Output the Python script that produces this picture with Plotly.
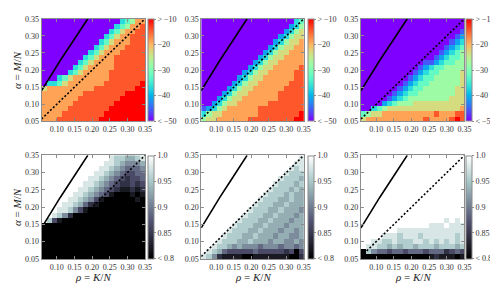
import math
import plotly.graph_objects as go

# ---------------- data ----------------
rho = [0.0643, 0.0790, 0.0936, 0.1083, 0.1229, 0.1376, 0.1522, 0.1669, 0.1815, 0.1962,
       0.2108, 0.2255, 0.2401, 0.2548, 0.2694, 0.2841, 0.2987, 0.3134, 0.3280, 0.3427]
alpha = [0.0575, 0.0725, 0.0875, 0.1025, 0.1175, 0.1325, 0.1475, 0.1625, 0.1775, 0.1925,
         0.2075, 0.2225, 0.2375, 0.2525, 0.2675, 0.2825, 0.2975, 0.3125, 0.3275, 0.3425]

# each row: 20 levels 0..9 (0 = colour-bar minimum, 9 = maximum); rows listed top (alpha=0.3425) to bottom
nmse_a = [
    "00000000000000034577",
    "00000000000000345778",
    "00000000000003467788",
    "00000000000034677888",
    "00000000000346777888",
    "00000000003467778888",
    "00000000034677788888",
    "00000000346777888888",
    "00000003467777888888",
    "00000034677777888888",
    "00000346777778888888",
    "00034677777778888888",
    "03346777777788888889",
    "67777777778888888899",
    "77777777888888889999",
    "77777778888888899999",
    "77777788888888999999",
    "77777888888889999999",
    "77778888888899999999",
    "77788888888999999999",
]
nmse_b = [
    "00000000000000000034",
    "00000000000000000235",
    "00000000000000002356",
    "00000000000000023566",
    "00000000000000235667",
    "00000000000002356677",
    "00000000000023566777",
    "00000000000235667777",
    "00000000002356677777",
    "00000000023566777778",
    "00000000235667777788",
    "00000002356677777788",
    "00000023566777777888",
    "00000235667777778888",
    "00002356677777788888",
    "00023566777777788888",
    "00235667777778888888",
    "12356777777888888888",
    "35667777777888888889",
    "56677777788888888899",
]
nmse_c = [
    "00000000000000000000",
    "00000000000000000000",
    "00000000000000000001",
    "00000000000000000012",
    "00000000000000000123",
    "00000000000000001234",
    "00000000000000012345",
    "00000000000000123445",
    "00000000000011234455",
    "00000000000123445555",
    "00000000001234455556",
    "00000000012344555556",
    "00000000123445555556",
    "00000001234455555566",
    "00000012344555555566",
    "00000123455555555666",
    "00002345556666666666",
    "00345666666666666667",
    "45667777777777877788",
    "67777777777787777898",
]
rate_a = [
    "99999999999998776678",
    "99999999999988765556",
    "99999999999887654445",
    "99999999998876543344",
    "99999999988765432334",
    "99999999887654322323",
    "99999998876543211212",
    "99999988765431000101",
    "99999887653100000010",
    "99998876421000000000",
    "99988753100000000000",
    "99875200000000000000",
    "97310000000000000000",
    "00000000000000000000",
    "00000000000000000000",
    "00000000000000000000",
    "00000000000000000000",
    "00000000000000000000",
    "00000000000000000000",
    "00000000000000000000",
]
rate_b = [
    "99999999999999999998",
    "99999999999999999988",
    "99999999999999999878",
    "99999999999999998777",
    "99999999999999987776",
    "99999999999999877767",
    "99999999999998777676",
    "99999999999987776766",
    "99999999999877766766",
    "99999999998777667666",
    "99999999987776676665",
    "99999999877766766656",
    "99999998777667666566",
    "99999987776676665666",
    "99999877766766656656",
    "99998777667666566556",
    "99987776676665665565",
    "99877656555455545545",
    "98764333334333332303",
    "87521111001111111002",
]
rate_c = [
    "99999999999999999999",
    "99999999999999999999",
    "99999999999999999999",
    "99999999999999999999",
    "99999999999999999999",
    "99999999999999999999",
    "99999999999999999999",
    "99999999999999999999",
    "99999999999999999999",
    "99999999999999999999",
    "99999999999999999999",
    "99999999999999999999",
    "99999999999999998989",
    "99999999999998889888",
    "99999998888888888888",
    "99998887888788888878",
    "99887787778878787878",
    "98877676776777677767",
    "07544344344434442343",
    "00000000000001211101",
]

curve_rho = [0.057, 0.080, 0.110, 0.140, 0.165, 0.188]
curve_alpha = [0.140, 0.180, 0.228, 0.275, 0.313, 0.350]
diag_rho = [0.057, 0.350]
diag_alpha = [0.057, 0.350]

top_ticks = [-10, -20, -30, -40, -50]
top_ticktext = ["> \u221210", "\u221220", "\u221230", "\u221240", "< \u221250"]
bot_ticks = [1.0, 0.95, 0.9, 0.85, 0.8]
bot_ticktext = ["1.0", "0.95", "0.9", "0.85", "< 0.8"]
x_ticks = [0.10, 0.15, 0.20, 0.25, 0.30, 0.35]
y_ticks = [0.05, 0.10, 0.15, 0.20, 0.25, 0.30, 0.35]

# ---------------- styling ----------------
FONT = "Liberation Serif"
W, H = 498, 284


def decode(rows, vmin, vmax):
    return [[vmin + int(ch) * (vmax - vmin) / 9.0 for ch in row] for row in reversed(rows)]


def rainbow_scale(n=21):
    out = []
    for i in range(n):
        t = i / (n - 1)
        r = min(1.0, abs(2 * t - 0.5))
        g = math.sin(math.pi * t)
        b = math.cos(math.pi * t / 2)
        out.append([t, "rgb(%d,%d,%d)" % (round(r * 255), round(max(g, 0) * 255), round(max(b, 0) * 255))])
    return out


bone = [[0.0, "rgb(0,0,0)"], [0.365079, "rgb(81,81,113)"],
        [0.746032, "rgb(166,198,198)"], [1.0, "rgb(255,255,255)"]]

col_x = [(34, 139), (196, 300), (358, 463)]
row_y = [(7, 113), (148, 255)]
cb_x = [142, 304, 465]

panels = [
    (nmse_a, 0, 0), (nmse_b, 0, 1), (nmse_c, 0, 2),
    (rate_a, 1, 0), (rate_b, 1, 1), (rate_c, 1, 2),
]

fig = go.Figure()
layout = {}
gray = "#8c8c8c"
for k, (rows, ri, ci) in enumerate(panels, start=1):
    top = ri == 0
    vmin, vmax = (-50, -10) if top else (0.8, 1.0)
    y0, y1 = row_y[ri]
    x0, x1 = col_x[ci]
    xa = "x" if k == 1 else "x%d" % k
    ya = "y" if k == 1 else "y%d" % k
    fig.add_trace(go.Heatmap(
        x=rho, y=alpha, z=decode(rows, vmin, vmax), zmin=vmin, zmax=vmax,
        colorscale=rainbow_scale() if top else bone,
        xaxis=xa, yaxis=ya,
        colorbar=dict(
            x=cb_x[ci] / W, xanchor="left", xpad=0, ypad=0,
            y=1 - (y0 + y1) / 2 / H, yanchor="middle",
            len=(y1 - y0 - 1) / H, lenmode="fraction",
            thickness=6, thicknessmode="pixels",
            outlinewidth=1, outlinecolor=gray,
            tickvals=top_ticks if top else bot_ticks,
            ticktext=top_ticktext if top else bot_ticktext,
            tickfont=dict(family=FONT, size=8, color="#333"),
            ticks="outside", ticklen=2, tickcolor=gray,
        ),
    ))
    fig.add_trace(go.Scatter(x=curve_rho, y=curve_alpha, mode="lines",
                             line=dict(color="black", width=1.6),
                             xaxis=xa, yaxis=ya, showlegend=False, hoverinfo="skip"))
    fig.add_trace(go.Scatter(x=diag_rho, y=diag_alpha, mode="lines",
                             line=dict(color="black", width=1.6, dash="2px,2px"),
                             xaxis=xa, yaxis=ya, showlegend=False, hoverinfo="skip"))
    axcommon = dict(showline=True, linecolor=gray, linewidth=1, mirror="ticks",
                    ticks="inside", ticklen=3, tickcolor=gray, showgrid=False,
                    zeroline=False, tickangle=0,
                    tickfont=dict(family=FONT, size=8, color="#333"))
    layout["xaxis" if k == 1 else "xaxis%d" % k] = dict(
        domain=[x0 / W, x1 / W], anchor=ya, range=[0.057, 0.35],
        tickvals=x_ticks, ticktext=["%.2f" % v for v in x_ticks], **axcommon)
    layout["yaxis" if k == 1 else "yaxis%d" % k] = dict(
        domain=[1 - y1 / H, 1 - y0 / H], anchor=xa, range=[0.05, 0.35],
        tickvals=y_ticks, ticktext=["%.2f" % v for v in y_ticks], **axcommon)

annotations = []
for ri in range(2):
    y0, y1 = row_y[ri]
    annotations.append(dict(text="<i>α</i> = <i>M</i>/<i>N</i>", x=9 / W, y=1 - (y0 + y1) / 2 / H,
                            xref="paper", yref="paper", textangle=-90, showarrow=False,
                            xanchor="center", yanchor="middle",
                            font=dict(family=FONT, size=11, color="#222")))
for ci in range(3):
    x0, x1 = col_x[ci]
    annotations.append(dict(text="<i>ρ</i> = <i>K</i>/<i>N</i>", x=(x0 + x1) / 2 / W, y=1 - 274 / H,
                            xref="paper", yref="paper", showarrow=False,
                            xanchor="center", yanchor="middle",
                            font=dict(family=FONT, size=11, color="#222")))

fig.update_layout(width=W, height=H, margin=dict(l=0, r=0, t=0, b=0),
                  paper_bgcolor="white", plot_bgcolor="white", showlegend=False,
                  annotations=annotations, **layout)
fig.write_html("out.html")
